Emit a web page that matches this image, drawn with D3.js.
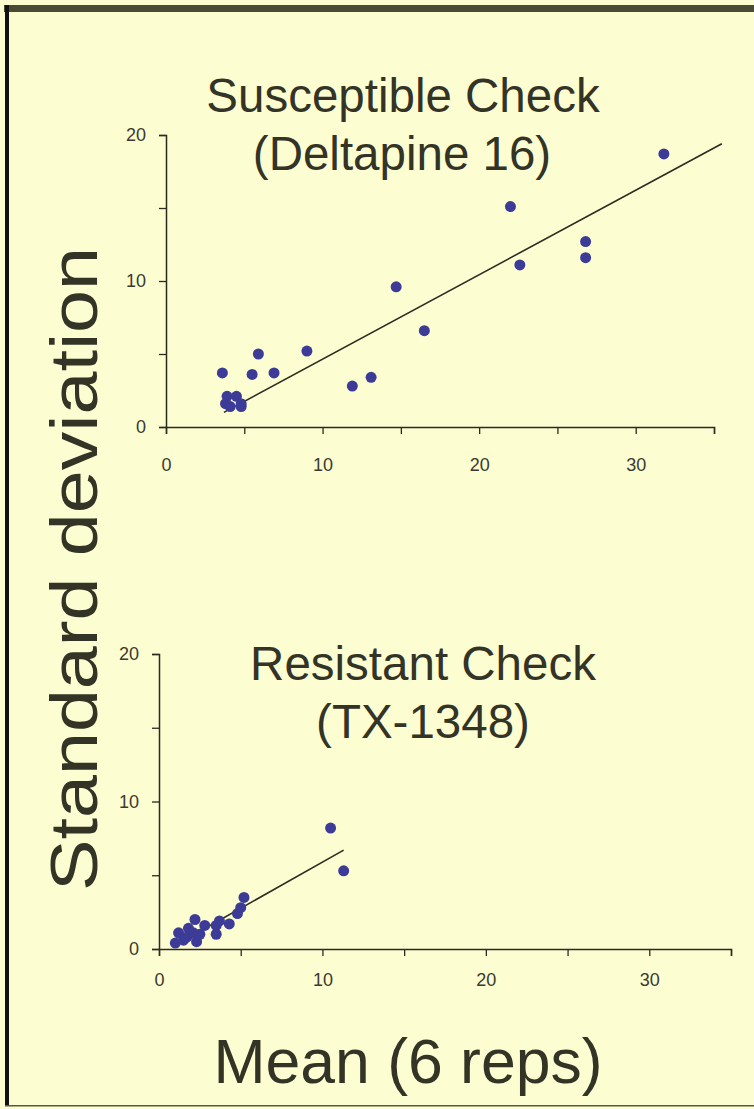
<!DOCTYPE html>
<html>
<head>
  <title>Mean vs standard deviation</title>
  <style>
    body { margin: 0; padding: 0; background-color: #fff; }
    svg { display: block; }
    text { font-family: "Liberation Sans", Arial, sans-serif; }
  </style>
</head>
<body>
  <div id="chart"></div>

  <script src="https://d3js.org/d3.v7.min.js"></script>
  <script>
    // tick values shared by both panels
    var xTickValues = [0, 5, 10, 15, 20, 25, 30, 35];
    var yTickValues = [0, 5, 10, 15, 20];
    var xLabelled = [0, 10, 20, 30];
    var yLabelled = [0, 10, 20];

    // Susceptible check (Deltapine 16): mean and SD per entry
    var susMean = [3.6, 3.9, 3.8, 4.1, 4.5, 4.8, 4.8, 5.9, 5.5, 6.9, 9.0, 11.9, 13.1, 14.7, 16.5, 22.0, 22.6, 26.8, 26.8, 31.8];
    var susSD   = [3.7, 2.1, 1.6, 1.4, 2.1, 1.6, 1.4, 5.0, 3.6, 3.7, 5.2, 2.8, 3.4, 9.6, 6.6, 15.1, 11.1, 12.7, 11.6, 18.7];
    var susFitX = [3.7, 35.5];
    var susFitY = [1.0, 19.4];

    // Resistant check (TX-1348)
    var resMean = [1.0, 1.2, 1.5, 1.7, 1.8, 2.1, 2.2, 2.3, 2.5, 2.8, 3.5, 3.5, 3.7, 4.3, 4.8, 5.0, 5.2, 10.5, 11.3];
    var resSD   = [0.4, 1.1, 0.6, 0.8, 1.4, 1.1, 2.0, 0.5, 1.0, 1.6, 1.0, 1.6, 1.9, 1.7, 2.4, 2.8, 3.5, 8.2, 5.3];
    var resFitX = [0.9, 11.3];
    var resFitY = [0.2, 6.7];

    var width = 754, height = 1109;
    var ink = "#2b2b20";
    var dotColor = "#3c3c98";

    var svg = d3.select("#chart").append("svg")
      .attr("width", width)
      .attr("height", height);

    svg.append("rect")
      .attr("width", width)
      .attr("height", height)
      .attr("fill", "#fdfdd2");

    // frame: heavy top band, black left edge, thin bottom line
    svg.append("rect").attr("x", 4).attr("y", 5).attr("width", width - 4).attr("height", 7).attr("fill", "#4a4a36");
    svg.append("rect").attr("x", 5).attr("y", 5).attr("width", 4).attr("height", height - 8).attr("fill", "#111");
    svg.append("rect").attr("x", 5).attr("y", height - 4).attr("width", width - 5).attr("height", 1.5).attr("fill", "#5a5a44");

    function drawPanel(cfg) {
      var x = d3.scaleLinear().domain([0, 35]).range([cfg.left, cfg.right]);
      var y = d3.scaleLinear().domain([0, 20]).range([cfg.bottom, cfg.top]);

      var g = svg.append("g");

      var xAxis = d3.axisBottom(x)
        .tickValues(xTickValues)
        .tickSize(7)
        .tickPadding(cfg.xPad)
        .tickFormat(function (d) { return xLabelled.indexOf(d) >= 0 ? d : ""; });

      var yAxis = d3.axisLeft(y)
        .tickValues(yTickValues)
        .tickSize(7)
        .tickPadding(13)
        .tickFormat(function (d) { return yLabelled.indexOf(d) >= 0 ? d : ""; });

      g.append("g")
        .attr("transform", "translate(0," + cfg.bottom + ")")
        .call(xAxis);

      g.append("g")
        .attr("transform", "translate(" + cfg.left + ",0)")
        .call(yAxis);

      g.selectAll(".domain").attr("stroke", ink).attr("stroke-width", 1.5);
      g.selectAll(".tick line").attr("stroke", ink).attr("stroke-width", 1.3);
      g.selectAll(".tick text")
        .attr("fill", "#3a3a30")
        .style("font-size", "18px");

      // title, two lines
      g.selectAll("text.title")
        .data(cfg.title)
        .enter()
        .append("text")
        .attr("class", "title")
        .attr("x", function (d, i) { return cfg.titleX[i]; })
        .attr("y", function (d, i) { return cfg.titleY + i * 58; })
        .attr("text-anchor", "middle")
        .attr("fill", "#333326")
        .style("font-size", "47.5px")
        .text(function (d) { return d; });

      // regression line
      g.append("line")
        .attr("x1", x(cfg.fitX[0]))
        .attr("y1", y(cfg.fitY[0]))
        .attr("x2", x(cfg.fitX[1]))
        .attr("y2", y(cfg.fitY[1]))
        .attr("stroke", ink)
        .attr("stroke-width", 1.6);

      g.selectAll("circle")
        .data(cfg.mean)
        .enter()
        .append("circle")
        .attr("cx", function (d) { return x(d); })
        .attr("cy", function (d, i) { return y(cfg.sd[i]); })
        .attr("r", 5.5)
        .attr("fill", dotColor);
    }

    drawPanel({
      left: 166, right: 714, top: 135, bottom: 427, xPad: 24,
      title: ["Susceptible Check", "(Deltapine 16)"],
      titleX: [403, 402], titleY: 112,
      mean: susMean, sd: susSD, fitX: susFitX, fitY: susFitY
    });

    drawPanel({
      left: 159, right: 731, top: 654, bottom: 949, xPad: 17,
      title: ["Resistant Check", "(TX-1348)"],
      titleX: [423, 423], titleY: 680,
      mean: resMean, sd: resSD, fitX: resFitX, fitY: resFitY
    });

    // shared axis titles (the vertical one is stretched along its length, as in the source)
    svg.append("text")
      .attr("transform", "translate(97,569) rotate(-90) scale(1.17,1)")
      .attr("text-anchor", "middle")
      .attr("fill", "#333326")
      .style("font-size", "66px")
      .text("Standard deviation");

    svg.append("text")
      .attr("x", 408)
      .attr("y", 1083)
      .attr("text-anchor", "middle")
      .attr("fill", "#333326")
      .style("font-size", "62.5px")
      .text("Mean (6 reps)");
  </script>
</body>
</html>
